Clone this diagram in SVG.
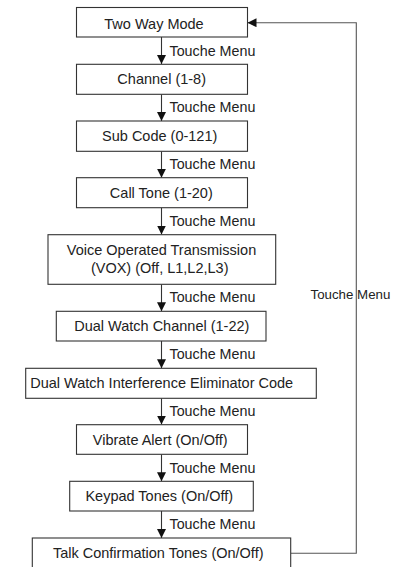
<svg xmlns="http://www.w3.org/2000/svg" width="399" height="567" viewBox="0 0 399 567">
<style>
.box{fill:#fff;stroke:#333;stroke-width:1.1}
.t{font-family:"Liberation Sans",Arial,sans-serif;font-size:14.5px;fill:#222;text-anchor:middle}
.l{font-family:"Liberation Sans",Arial,sans-serif;font-size:14.3px;fill:#222}
.c{fill:none;stroke:#333;stroke-width:1.1}
</style>
<defs>
<marker id="ah" markerWidth="10" markerHeight="10" refX="9" refY="4.5" orient="auto" markerUnits="userSpaceOnUse">
<path d="M0,0 L9,4.5 L0,9 Z" fill="#111"/>
</marker>
</defs>
<rect width="399" height="567" fill="#fff"/>
<g id="connectors">
<line class="c" x1="161.5" y1="37" x2="161.5" y2="64" marker-end="url(#ah)"/>
<line class="c" x1="161.5" y1="94.3" x2="161.5" y2="121" marker-end="url(#ah)"/>
<line class="c" x1="161.5" y1="151.3" x2="161.5" y2="177.7" marker-end="url(#ah)"/>
<line class="c" x1="161.5" y1="207.7" x2="161.5" y2="234.5" marker-end="url(#ah)"/>
<line class="c" x1="161.5" y1="284.3" x2="161.5" y2="311.2" marker-end="url(#ah)"/>
<line class="c" x1="161.5" y1="341" x2="161.5" y2="368.2" marker-end="url(#ah)"/>
<line class="c" x1="161.5" y1="398.3" x2="161.5" y2="424.6" marker-end="url(#ah)"/>
<line class="c" x1="161.5" y1="454.3" x2="161.5" y2="481.2" marker-end="url(#ah)"/>
<line class="c" x1="161.5" y1="511" x2="161.5" y2="538" marker-end="url(#ah)"/>
<polyline class="c" style="stroke:#555" points="290.7,553.3 356.3,553.3 356.3,22.7 247.5,22.7" marker-end="url(#ah)"/>
<text class="l" x="169.5" y="55.5">Touche Menu</text>
<text class="l" x="169.5" y="112.2">Touche Menu</text>
<text class="l" x="169.5" y="168.8">Touche Menu</text>
<text class="l" x="169.5" y="225.5">Touche Menu</text>
<text class="l" x="169.5" y="302.2">Touche Menu</text>
<text class="l" x="169.5" y="359">Touche Menu</text>
<text class="l" x="169.5" y="415.8">Touche Menu</text>
<text class="l" x="169.5" y="472.5">Touche Menu</text>
<text class="l" x="169.5" y="529.2">Touche Menu</text>
<text class="l" x="310.5" y="299.3" style="font-size:13.3px">Touche Menu</text>
</g>
<g id="n1"><rect class="box" x="76.5" y="7.5" width="171" height="29.5"/><text class="t" x="154" y="29.3">Two Way Mode</text></g>
<g id="n2"><rect class="box" x="76.5" y="64.3" width="171" height="30"/><text class="t" x="161.7" y="84.3">Channel (1-8)</text></g>
<g id="n3"><rect class="box" x="76.5" y="121" width="171" height="30.3"/><text class="t" x="159.7" y="141.2">Sub Code (0-121)</text></g>
<g id="n4"><rect class="box" x="76.5" y="177.7" width="171" height="30"/><text class="t" x="161.3" y="197.7">Call Tone (1-20)</text></g>
<g id="n5"><rect class="box" x="48" y="234.7" width="227.7" height="49.6"/><text class="t" x="161.5" y="255">Voice Operated Transmission</text><text class="t" x="159.7" y="273.3">(VOX) (Off, L1,L2,L3)</text></g>
<g id="n6"><rect class="box" x="56.3" y="311.3" width="209.7" height="29.7"/><text class="t" x="161.8" y="331.2">Dual Watch Channel (1-22)</text></g>
<g id="n7"><rect class="box" x="25.7" y="368.3" width="290.6" height="30"/><text class="t" x="161.7" y="388.3">Dual Watch Interference Eliminator Code</text></g>
<g id="n8"><rect class="box" x="76.5" y="424.7" width="171" height="29.6"/><text class="t" x="160.2" y="444.5">Vibrate Alert (On/Off)</text></g>
<g id="n9"><rect class="box" x="69.7" y="481.3" width="183.6" height="29.7"/><text class="t" x="159.3" y="501.2">Keypad Tones (On/Off)</text></g>
<g id="n10"><rect class="box" x="32.3" y="538" width="258.4" height="32"/><text class="t" x="158.2" y="558.3">Talk Confirmation Tones (On/Off)</text></g>
</svg>
